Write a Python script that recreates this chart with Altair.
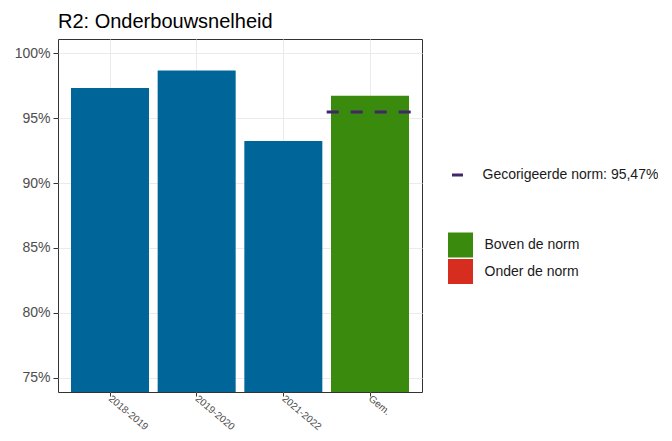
import altair as alt
import pandas as pd

categories = ["2018-2019", "2019-2020", "2021-2022", "Gem."]
values = [97.33, 98.68, 93.24, 96.72]
status_labels = ["Boven de norm", "Onder de norm"]
average_status = "Boven de norm"
norm_value = 95.47
norm_label = "Gecorigeerde norm: 95,47%"
y_ticks = [75, 80, 85, 90, 95, 100]
y_domain = [73.9, 101.1]

BLUE = "#006699"
GREEN = "#3a8a0e"
RED = "#d62d1f"
PURPLE = "#43256a"
FONT = "Liberation Sans"

years_df = pd.DataFrame({"cat": categories[:3], "value": values[:3]})
avg_df = pd.DataFrame({"cat": [categories[3]], "value": [values[3]], "status": [average_status]})
norm_df = pd.DataFrame({"cat": [categories[3]], "value": [norm_value], "label": [norm_label]})

x_enc = alt.X(
    "cat:N",
    sort=categories,
    scale=alt.Scale(domain=categories, paddingInner=0.1, paddingOuter=0.15),
    axis=alt.Axis(
        title=None, labelAngle=40, labelAlign="left", labelBaseline="middle",
        labelFontSize=10, labelColor="#4d4d4d", tickSize=4, tickColor="#333333",
        labelPadding=1, grid=True, gridColor="#ebebeb", domain=False, bandPosition=0.5,
    ),
)
y_enc = alt.Y(
    "value:Q",
    scale=alt.Scale(domain=y_domain, nice=False, zero=False),
    axis=alt.Axis(
        title=None, values=y_ticks, labelExpr="datum.value + '%'",
        labelFontSize=14, labelColor="#4d4d4d", tickSize=5, tickColor="#333333",
        labelPadding=3, grid=True, gridColor="#ebebeb", domain=False,
    ),
)

blue = alt.Chart(years_df).mark_bar(color=BLUE, clip=True).encode(
    x=x_enc, y=y_enc, y2=alt.datum(0)
)

avg = alt.Chart(avg_df).mark_bar(clip=True).encode(
    x=x_enc,
    y=y_enc,
    y2=alt.datum(0),
    fill=alt.Fill(
        "status:N",
        scale=alt.Scale(domain=status_labels, range=[GREEN, RED]),
        legend=alt.Legend(
            title=None, orient="none", legendX=390, legendY=193.5, padding=0,
            symbolType="square", symbolSize=625, symbolStrokeWidth=0, symbolOpacity=1,
            rowPadding=1.5, labelOffset=11.5, labelFontSize=14, labelColor="#1a1a1a",
            labelFont=FONT, labelLimit=300,
        ),
    ),
)

norm = alt.Chart(norm_df).mark_rule(
    strokeDash=[12, 12], strokeWidth=3, xOffset=-4.3, x2Offset=4.3
).encode(
    x=alt.X("cat:N", sort=categories, bandPosition=0),
    x2=alt.X2("cat:N", bandPosition=1),
    y=alt.Y("value:Q"),
    stroke=alt.Stroke(
        "label:N",
        scale=alt.Scale(domain=[norm_label], range=[PURPLE]),
        legend=alt.Legend(
            title=None, orient="none", legendX=392.5, legendY=129, padding=0,
            symbolType="stroke", symbolSize=121, symbolStrokeWidth=3, symbolDash=[20, 0],
            labelOffset=18, labelFontSize=14, labelColor="#1a1a1a", labelFont=FONT,
            labelLimit=300,
        ),
    ),
)

chart = alt.layer(blue, avg, norm).properties(
    width=364,
    height=353,
    title=alt.TitleParams(
        "R2: Onderbouwsnelheid", anchor="start", frame="group", fontSize=20,
        fontWeight="normal", color="#000000", font=FONT, offset=15,
        baseline="alphabetic", dy=24,
    ),
    padding={"left": 50, "top": 31, "right": 236, "bottom": 40},
    autosize=alt.AutoSizeParams(type="none"),
).configure_view(
    stroke="#333333", strokeWidth=1
).configure_axis(
    labelFont=FONT
).configure_legend(
    labelFont=FONT
)

chart.save("out.html", embed_options={"renderer": "svg", "actions": False})
